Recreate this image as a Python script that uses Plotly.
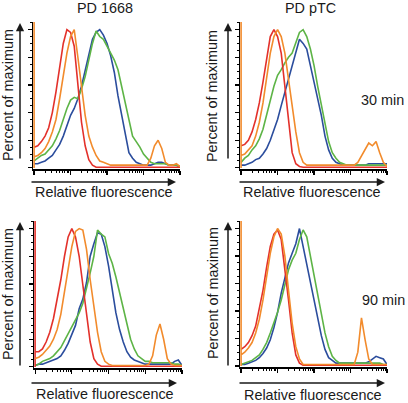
import plotly.graph_objects as go

W, H = 408, 403

# Histogram bin centres (relative fluorescence, log-spaced channels, 10 per decade)
BINS = [round(10 ** (i / 10), 4) for i in range(41)]

# ---- Panel 1: PD 1668, 30 min (percent of maximum) ----
P1_RED = [15, 16, 19, 23, 29, 40, 55, 74, 90, 100, 98, 88, 59, 33, 16, 6, 2] + [0.5] * 24
P1_ORANGE = [8, 9, 11, 14, 19, 26, 35, 50, 66, 83, 95, 100, 80, 57, 38, 23, 15, 9, 5, 4, 3] + [2] * 10 + \
            [2, 7, 16, 20, 14, 4, 2, 2, 3, 1]
P1_GREEN = [5, 7, 9, 10, 13, 16, 21, 27, 35, 43, 49, 51, 50, 57, 66, 78, 90, 99, 95, 93,
            88, 83, 78, 71, 59, 45, 33, 23, 19, 15, 10, 7, 4, 3, 3, 3, 3, 2, 2, 2, 1]
P1_BLUE = [3, 3, 4, 5, 7, 9, 13, 17, 23, 31, 38, 43, 50, 59, 71, 83, 93, 98, 100, 96,
           90, 81, 69, 52, 38, 23, 11, 7, 4, 3, 2, 2, 2, 3, 4, 4, 3, 2, 2, 2, 1]

# ---- Panel 2: PD pTC, 30 min ----
P2_RED = [16, 17, 20, 26, 35, 47, 62, 78, 95, 100, 95, 83, 59, 31, 11, 3, 1] + [0.5] * 24
P2_ORANGE = [9, 10, 13, 16, 23, 33, 47, 64, 83, 95, 100, 95, 83, 64, 45, 26, 11, 4, 2] + [2] * 12 + \
            [2, 4, 9, 14, 18, 16, 19, 11, 4, 1]
P2_GREEN = [4, 7, 9, 13, 16, 21, 28, 38, 50, 59, 67, 71, 76, 80, 83, 90, 98, 100, 95, 86,
            74, 59, 45, 31, 19, 11, 7, 4, 3, 2] + [2] * 11
P2_BLUE = [2, 2, 3, 4, 6, 7, 10, 14, 20, 27, 35, 45, 55, 64, 74, 83, 93, 90, 86, 74,
           62, 50, 38, 23, 13, 7, 4, 3, 2, 2, 2, 2, 2, 2, 2, 3, 3, 3, 3, 3, 3]

# ---- Panel 3: PD 1668, 90 min ----
P3_RED = [11, 11, 13, 18, 25, 35, 49, 63, 80, 94, 100, 94, 80, 58, 37, 18, 6, 2] + [0.5] * 23
P3_ORANGE = [6, 7, 9, 12, 15, 20, 27, 38, 54, 73, 87, 98, 100, 99, 85, 63, 44, 25, 11, 4, 2] + [1] * 10 + \
            [2, 8, 23, 31, 20, 6, 2, 1, 1, 1]
P3_GREEN = [1, 2, 4, 5, 6, 8, 11, 14, 19, 24, 29, 33, 39, 46, 56, 68, 80, 99, 96, 94,
            82, 75, 65, 54, 42, 30, 20, 13, 8, 6, 4, 4, 3, 3, 3, 3, 3, 3, 2, 2, 1]
P3_BLUE = [1, 2, 2, 3, 4, 5, 6, 8, 12, 17, 23, 30, 42, 49, 61, 80, 89, 97, 96, 87,
           73, 56, 39, 27, 18, 11, 7, 5, 4, 3, 2, 2, 2, 2, 2, 2, 2, 2, 4, 5, 1]

# ---- Panel 4: PD pTC, 90 min ----
P4_RED = [12, 14, 17, 22, 29, 41, 55, 72, 87, 96, 99, 92, 72, 48, 24, 8, 2] + [0.5] * 24
P4_ORANGE = [8, 10, 13, 17, 24, 34, 48, 65, 82, 94, 100, 96, 80, 55, 31, 14, 5, 1] + [1] * 13 + \
            [1, 10, 35, 19, 5, 1, 1, 1, 1, 1]
P4_GREEN = [1, 2, 3, 4, 6, 8, 12, 17, 24, 31, 39, 48, 60, 70, 77, 82, 92, 99, 94, 80,
            65, 51, 36, 24, 14, 7, 4, 2] + [2] * 11 + [1, 1]
P4_BLUE = [1, 1, 2, 3, 4, 6, 9, 13, 19, 28, 39, 53, 65, 75, 82, 89, 100, 87, 72, 60,
           48, 34, 22, 12, 6, 4, 2, 2, 2, 2, 2, 2, 2, 2, 2, 3, 5, 7, 6, 5, 1]

# Off-scale first-bin counts (pile-up at the lowest channel)
SPIKES = [("orange", 140), ("orange", 140), ("red", 140), ("orange", 140)]

TITLES = ["PD 1668", "PD pTC", "", ""]
TIMES = ["", "30 min", "", "90 min"]
X_LABEL = "Relative fluorescence"
Y_LABEL = "Percent of maximum"

COLORS = {"blue": "#2b4d9d", "green": "#5db446", "red": "#e3312b", "orange": "#f28b2c"}
ORDER = ["blue", "green", "red", "orange"]

PANELS = [
    {"blue": P1_BLUE, "green": P1_GREEN, "red": P1_RED, "orange": P1_ORANGE},
    {"blue": P2_BLUE, "green": P2_GREEN, "red": P2_RED, "orange": P2_ORANGE},
    {"blue": P3_BLUE, "green": P3_GREEN, "red": P3_RED, "orange": P3_ORANGE},
    {"blue": P4_BLUE, "green": P4_GREEN, "red": P4_RED, "orange": P4_ORANGE},
]

# layout geometry in pixels: (x0, x1, ybottom, ytop)
GEOM = [(33, 180, 169, 22), (240, 387, 169, 22), (34, 182, 368, 221), (240, 387, 367, 221)]


def px(x):
    return x / W


def py(y):
    return 1 - y / H


fig = go.Figure()
layout = dict(width=W, height=H, margin=dict(l=0, r=0, t=0, b=0),
              paper_bgcolor="white", plot_bgcolor="white", showlegend=False,
              font=dict(family="Liberation Sans, Arial, sans-serif", color="#1a1a1a"))

minor_x = [m * 10 ** d for d in range(4) for m in range(2, 10)]
annotations = []
FONT = dict(family="Liberation Sans, Arial, sans-serif", size=14.4, color="#1a1a1a")

for i, (curves, geom) in enumerate(zip(PANELS, GEOM)):
    n = i + 1
    xa = "x" if n == 1 else f"x{n}"
    ya = "y" if n == 1 else f"y{n}"
    x0, x1, yb, yt = geom
    spike_color, spike_val = SPIKES[i]
    for c in ORDER:
        vals = curves[c]
        if c == spike_color:
            xs = [BINS[0], BINS[0]] + BINS
            ys = [0, spike_val] + vals
        else:
            xs, ys = BINS, vals
        fig.add_trace(go.Scatter(x=xs, y=ys, mode="lines", xaxis=xa, yaxis=ya,
                                 line=dict(color=COLORS[c], width=1.6), hoverinfo="skip"))
    layout["xaxis" if n == 1 else f"xaxis{n}"] = dict(
        type="log", range=[-0.03, 4.0], domain=[px(x0), px(x1)], anchor=ya,
        showline=True, linecolor="black", linewidth=1.5, mirror=False,
        ticks="outside", ticklen=4, tickwidth=1.2, tickcolor="black",
        tickvals=[1, 10, 100, 1000, 10000], showticklabels=False,
        showgrid=False, zeroline=False, layer="below traces",
        minor=dict(tickvals=minor_x, ticks="outside", ticklen=2.5, tickwidth=1,
                   tickcolor="black", showgrid=False))
    layout["yaxis" if n == 1 else f"yaxis{n}"] = dict(
        range=[-0.8, 105.5], domain=[py(yb), py(yt)], anchor=xa,
        showline=True, linecolor="black", linewidth=1.5,
        ticks="outside", ticklen=3.5, tickwidth=1.2, tickcolor="black",
        tick0=0, dtick=20, showticklabels=False, showgrid=False, zeroline=False,
        layer="below traces",
        minor=dict(dtick=5, ticks="outside", ticklen=2, tickwidth=1,
                   tickcolor="black", showgrid=False))

# Text labels
LABEL_POS = [  # (xlabel cx, cy), (ylabel cx, cy)
    ((104, 192), (8, 95)),
    ((312, 192), (212, 96)),
    ((105, 394), (8, 294)),
    ((313, 395), (213, 293)),
]
for (xl, yl) in LABEL_POS:
    annotations.append(dict(text=X_LABEL, x=px(xl[0]), y=py(xl[1]), xref="paper", yref="paper",
                            showarrow=False, xanchor="center", yanchor="middle", font=FONT))
    annotations.append(dict(text=Y_LABEL, x=px(yl[0]), y=py(yl[1]), xref="paper", yref="paper",
                            showarrow=False, xanchor="center", yanchor="middle", textangle=-90,
                            font=FONT))

TITLE_POS = [(105, 8), (310, 8)]
for t, (cx, cy) in zip(TITLES[:2], TITLE_POS):
    annotations.append(dict(text=t, x=px(cx), y=py(cy), xref="paper", yref="paper",
                            showarrow=False, xanchor="center", yanchor="middle", font=FONT))
TIME_POS = [(382, 100), (383, 300)]
for t, (cx, cy) in zip([TIMES[1], TIMES[3]], TIME_POS):
    annotations.append(dict(text=t, x=px(cx), y=py(cy), xref="paper", yref="paper",
                            showarrow=False, xanchor="center", yanchor="middle", font=FONT))

# Arrows: (tip x, tip y, tail x, tail y) in pixels
ARROWS = [
    (20, 23, 20, 160), (228, 23, 228, 160), (20, 222, 20, 367), (228, 222, 228, 367),
    (176, 182, 30, 182), (385, 182, 238, 182), (177, 383, 30, 383), (385, 383, 238, 383),
]
for tx, ty, sx, sy in ARROWS:
    annotations.append(dict(text="", x=px(tx), y=py(ty), xref="paper", yref="paper",
                            ax=sx - tx, ay=sy - ty, axref="pixel", ayref="pixel",
                            showarrow=True, arrowhead=2, arrowsize=1.1, arrowwidth=1.5,
                            arrowcolor="#1a1a1a", standoff=0, startstandoff=0))

layout["annotations"] = annotations
fig.update_layout(**layout)
fig.write_html("out.html",
               config={"displayModeBar": False, "staticPlot": True},
               post_script="document.body.style.margin='0';document.body.style.padding='0';"
                           "document.documentElement.style.overflow='hidden';")
